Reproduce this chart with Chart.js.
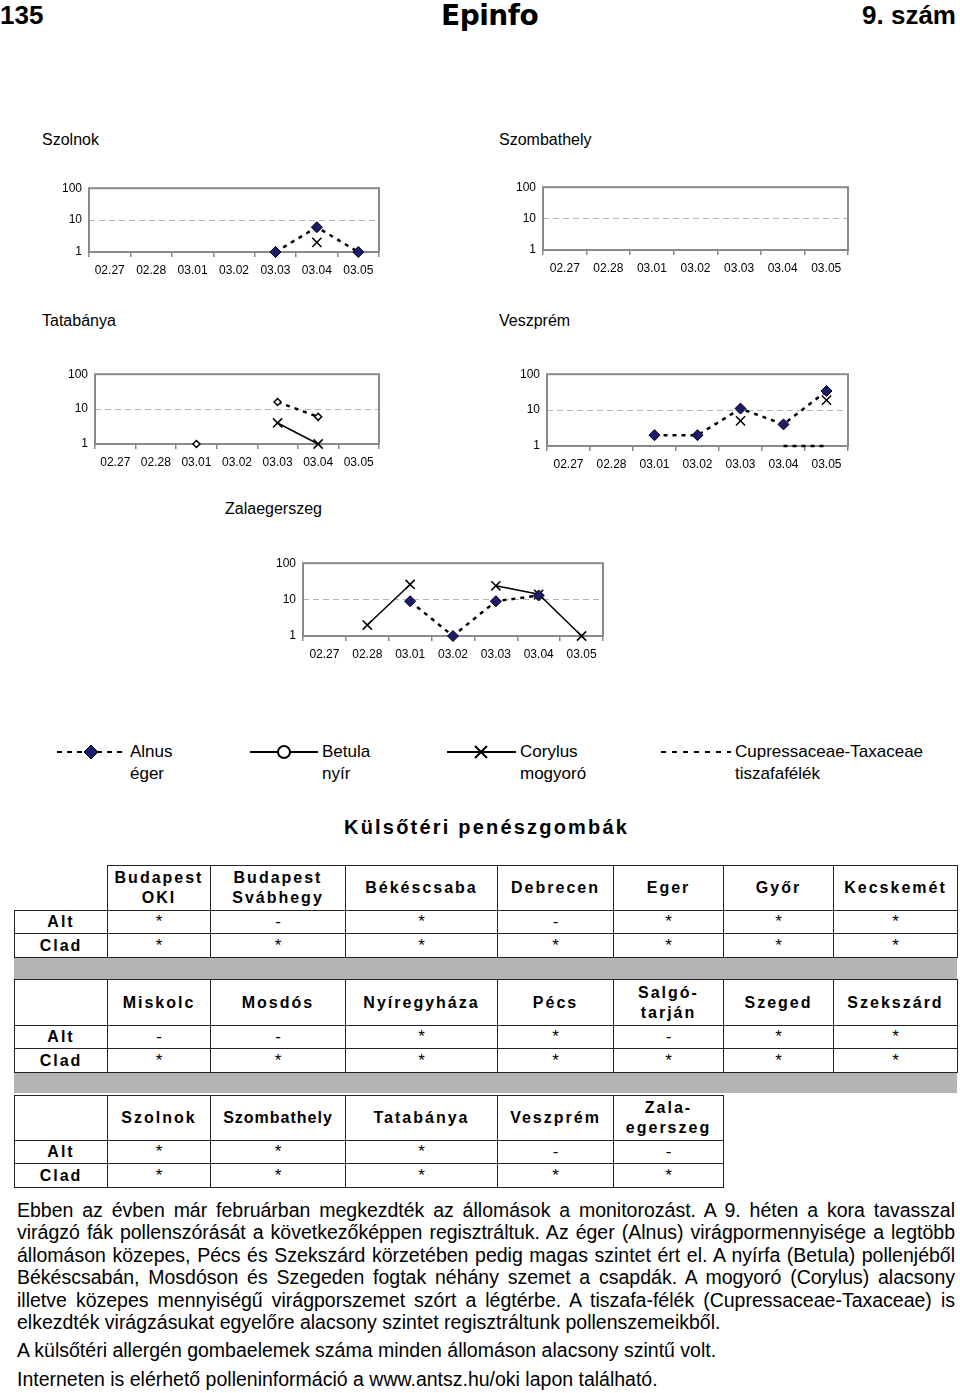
<!DOCTYPE html>
<html lang="hu">
<head>
<meta charset="utf-8">
<title>Epinfo 135</title>
<script src="https://cdn.jsdelivr.net/npm/chart.js@4.4.1/dist/chart.umd.min.js"></script>
<style>
  body { margin: 0; width: 960px; height: 1393px; position: relative; overflow: hidden;
         background: #fff; color: #000; font-family: "Liberation Sans", Arial, sans-serif; }
  .abs { position: absolute; white-space: nowrap; }
  .head { font-family: "Liberation Sans Narrow", "Liberation Sans", sans-serif; font-weight: bold; font-size: 26px; line-height: normal; top: 0; }
  .logo { font-family: "DejaVu Sans", sans-serif; font-weight: bold; font-size: 28px; line-height: 32px; top: 0; left: 441px; letter-spacing: -0.5px; }
  .title { font-size: 16px; }
  .chartbox { position: absolute; }
  .leg { font-size: 17px; line-height: 22px; }
  .sec { font-size: 20px; font-weight: bold; letter-spacing: 2.2px; top: 816px; left: 344px; }
  table.grid { position: absolute; left: 14px; border-collapse: collapse; table-layout: fixed; }
  table.grid td { border: 1px solid #222; text-align: center; padding: 0; font-size: 17px; vertical-align: middle; }
  table.grid tr.hd td { font-weight: bold; font-size: 16px; letter-spacing: 2px; line-height: 20px; }
  table.grid td.lab { font-weight: bold; font-size: 16px; letter-spacing: 2px; }
  table.grid td.blank { border-top: none; border-left: none; }
  .band { position: absolute; left: 14px; width: 943px; background: #b4b4b4; }
  .txt { position: absolute; left: 17px; width: 938px; font-size: 19.5px; line-height: 22.4px; }
  .j { text-align: justify; text-align-last: justify; white-space: nowrap; word-spacing: -2px; }
</style>
</head>
<body>

<div class="abs head" style="left:0">135</div>
<div class="abs logo">Epinfo</div>
<div class="abs head" style="right:4px">9. szám</div>

<div class="abs title" style="left:42px; top:131px">Szolnok</div>
<div class="abs title" style="left:499px; top:131px">Szombathely</div>
<div class="abs title" style="left:42px; top:312px">Tatabánya</div>
<div class="abs title" style="left:499px; top:312px">Veszprém</div>
<div class="abs title" style="left:225px; top:500px">Zalaegerszeg</div>

<div class="chartbox" style="left:39px; top:174px"><canvas id="szolnok" width="350" height="108"></canvas></div>
<div class="chartbox" style="left:493px; top:173px"><canvas id="szombathely" width="365" height="107"></canvas></div>
<div class="chartbox" style="left:45px; top:360px"><canvas id="tatabanya" width="344" height="114"></canvas></div>
<div class="chartbox" style="left:497px; top:360px"><canvas id="veszprem" width="361" height="116"></canvas></div>
<div class="chartbox" style="left:253px; top:549px"><canvas id="zalaegerszeg" width="360" height="117"></canvas></div>

<!-- legend shared by the five charts -->
<svg class="abs" style="left:0; top:740px" width="960" height="26">
  <line x1="57" y1="12" x2="127" y2="12" stroke="#000" stroke-width="2" stroke-dasharray="5,5"/>
  <polygon points="91,5 98,12 91,19 84,12" fill="#1c1c6e" stroke="#000" stroke-width="1"/>
  <line x1="250" y1="12" x2="318" y2="12" stroke="#000" stroke-width="2"/>
  <circle cx="284" cy="12" r="6" fill="#fff" stroke="#000" stroke-width="2"/>
  <line x1="447" y1="12" x2="516" y2="12" stroke="#000" stroke-width="2"/>
  <path d="M475,6 L487,18 M487,6 L475,18" stroke="#000" stroke-width="2"/>
  <line x1="661" y1="12" x2="731" y2="12" stroke="#000" stroke-width="2" stroke-dasharray="5,6"/>
</svg>
<div class="abs leg" style="left:130px; top:741px">Alnus<br>éger</div>
<div class="abs leg" style="left:322px; top:741px">Betula<br>nyír</div>
<div class="abs leg" style="left:520px; top:741px">Corylus<br>mogyoró</div>
<div class="abs leg" style="left:735px; top:741px">Cupressaceae-Taxaceae<br>tiszafafélék</div>

<div class="abs sec">Külsőtéri penészgombák</div>

<table class="grid" style="top:865px">
  <colgroup><col style="width:93px"><col style="width:103px"><col style="width:135px"><col style="width:152px"><col style="width:116px"><col style="width:110px"><col style="width:110px"><col style="width:124px"></colgroup>
  <tr class="hd" style="height:45px"><td class="blank"></td><td>Budapest<br>OKI</td><td>Budapest<br>Svábhegy</td><td>Békéscsaba</td><td>Debrecen</td><td>Eger</td><td>Győr</td><td>Kecskemét</td></tr>
  <tr style="height:23px"><td class="lab">Alt</td><td>*</td><td>-</td><td>*</td><td>-</td><td>*</td><td>*</td><td>*</td></tr>
  <tr style="height:24px"><td class="lab">Clad</td><td>*</td><td>*</td><td>*</td><td>*</td><td>*</td><td>*</td><td>*</td></tr>
</table>
<div class="band" style="top:958px; height:21px"></div>

<table class="grid" style="top:979px">
  <colgroup><col style="width:93px"><col style="width:103px"><col style="width:135px"><col style="width:152px"><col style="width:116px"><col style="width:110px"><col style="width:110px"><col style="width:124px"></colgroup>
  <tr class="hd" style="height:46px"><td></td><td>Miskolc</td><td>Mosdós</td><td>Nyíregyháza</td><td>Pécs</td><td>Salgó-<br>tarján</td><td>Szeged</td><td>Szekszárd</td></tr>
  <tr style="height:23px"><td class="lab">Alt</td><td>-</td><td>-</td><td>*</td><td>*</td><td>-</td><td>*</td><td>*</td></tr>
  <tr style="height:24px"><td class="lab">Clad</td><td>*</td><td>*</td><td>*</td><td>*</td><td>*</td><td>*</td><td>*</td></tr>
</table>
<div class="band" style="top:1073px; height:20px"></div>

<table class="grid" style="top:1095px">
  <colgroup><col style="width:93px"><col style="width:103px"><col style="width:135px"><col style="width:152px"><col style="width:116px"><col style="width:110px"></colgroup>
  <tr class="hd" style="height:45px"><td></td><td>Szolnok</td><td style="letter-spacing:1px">Szombathely</td><td>Tatabánya</td><td>Veszprém</td><td>Zala-<br>egerszeg</td></tr>
  <tr style="height:23px"><td class="lab">Alt</td><td>*</td><td>*</td><td>*</td><td>-</td><td>-</td></tr>
  <tr style="height:24px"><td class="lab">Clad</td><td>*</td><td>*</td><td>*</td><td>*</td><td>*</td></tr>
</table>

<div class="txt" style="top:1199px">
  <div class="j">Ebben az évben már februárban megkezdték az állomások a monitorozást. A 9. héten a kora tavasszal</div>
  <div class="j">virágzó fák pollenszórását a következőképpen regisztráltuk. Az éger (Alnus) virágpormennyisége a legtöbb</div>
  <div class="j">állomáson közepes, Pécs és Szekszárd körzetében pedig magas szintet ért el. A nyírfa (Betula) pollenjéből</div>
  <div class="j">Békéscsabán, Mosdóson és Szegeden fogtak néhány szemet a csapdák. A mogyoró (Corylus) alacsony</div>
  <div class="j">illetve közepes mennyiségű virágporszemet szórt a légtérbe. A tiszafa-félék (Cupressaceae-Taxaceae) is</div>
  <div>elkezdték virágzásukat egyelőre alacsony szintet regisztráltunk pollenszemeikből.</div>
  <div style="margin-top:6px">A külsőtéri allergén gombaelemek száma minden állomáson alacsony szintű volt.</div>
  <div style="margin-top:6px">Interneten is elérhető polleninformáció a www.antsz.hu/oki lapon található.</div>
</div>

<script>
// categories and y ticks shared by every chart (log scale, pollen / m3)
const dates = ["02.27", "02.28", "03.01", "03.02", "03.03", "03.04", "03.05"];
const yTicks = [1, 10, 100];

// no values for the series
const noData = [null, null, null, null, null, null, null];

// Szolnok
const szolnokAlnus = [null, null, null, null, 1, 6, 1];
const szolnokCorylus = [null, null, null, null, null, 2, null];

// Szombathely - nothing counted yet

// Tatabánya
const tatabanyaAlnus = [null, null, 1, null, 16, 6, null];
const tatabanyaCorylus = [null, null, null, null, 4, 1, null];

// Veszprém
const veszpremAlnus = [null, null, 2, 2, 11, 4, 34];
const veszpremCorylus = [null, null, null, null, 5, null, 19];
const veszpremCupressaceae = [null, null, null, null, null, 1, 1];

// Zalaegerszeg
const zalaAlnus = [null, null, 9, 1, 9, 13, null];
const zalaCorylus = [null, 2, 26, null, 24, 14, 1];

// grey frame round the plot area, like the Excel original
const plotFrame = {
  id: "plotFrame",
  beforeDatasetsDraw(chart) {
    const { ctx, chartArea: a } = chart;
    ctx.save();
    ctx.strokeStyle = "#8a8a8a";
    ctx.lineWidth = 2;
    ctx.strokeRect(a.left, a.top, a.right - a.left, a.bottom - a.top);
    ctx.restore();
  },
};

// Function to build one small station chart
function createChart(id, alnus, betula, corylus, cupressaceae, openAlnus) {
  const ctx = document.getElementById(id).getContext("2d");

  return new Chart(ctx, {
    type: "line",
    data: {
      labels: dates,
      datasets: [
        {
          label: "Alnus",
          data: alnus,
          borderColor: "#000",
          borderWidth: 2.5,
          borderDash: [4, 5],
          pointStyle: "rectRot",
          pointRadius: openAlnus ? 3.5 : 5.5,
          pointBackgroundColor: openAlnus ? "#fff" : "#1c1c6e",
          pointBorderColor: "#000",
          pointBorderWidth: openAlnus ? 1.5 : 1,
        },
        {
          label: "Betula",
          data: betula,
          borderColor: "#000",
          borderWidth: 1.5,
          pointStyle: "circle",
          pointRadius: 5,
          pointBackgroundColor: "#fff",
          pointBorderColor: "#000",
        },
        {
          label: "Corylus",
          data: corylus,
          borderColor: "#000",
          borderWidth: 1.5,
          pointStyle: "crossRot",
          pointRadius: 6.5,
          pointBorderColor: "#000",
          pointBorderWidth: 1.5,
        },
        {
          label: "Cupressaceae-Taxaceae",
          data: cupressaceae,
          borderColor: "#000",
          borderWidth: 2.5,
          borderDash: [4, 5],
          pointRadius: 0,
        },
      ],
    },
    options: {
      responsive: false,
      animation: false,
      events: [],
      layout: { padding: { top: 10, right: 10, left: 0, bottom: 0 } },
      datasets: { line: { clip: false, tension: 0, fill: false } },
      scales: {
        x: {
          type: "category",
          offset: true,
          afterFit: (s) => { s.height = 30; },
          grid: { offset: true, drawOnChartArea: false, drawTicks: true, tickLength: 5, color: "#8a8a8a", lineWidth: 1.5 },
          border: { display: false },
          ticks: { color: "#000", font: { family: "Liberation Sans", size: 12 }, padding: 6, maxRotation: 0, autoSkip: false },
        },
        y: {
          type: "logarithmic",
          min: 1,
          max: 100,
          afterFit: (s) => { s.width = 50; },
          afterBuildTicks: (s) => { s.ticks = yTicks.map((v) => ({ value: v })); },
          grid: {
            drawTicks: false,
            color: (c) => (c.tick && c.tick.value === 10 ? "#b5b5b5" : "rgba(0,0,0,0)"),
            lineWidth: 1,
          },
          border: { display: false, dash: [6, 4] },
          ticks: { color: "#000", font: { family: "Liberation Sans", size: 12 }, padding: 7, callback: (v) => String(v) },
        },
      },
      plugins: {
        legend: { display: false },
        tooltip: { enabled: false },
      },
    },
    plugins: [plotFrame],
  });
}

createChart("szolnok", szolnokAlnus, noData, szolnokCorylus, noData, false);
createChart("szombathely", noData, noData, noData, noData, false);
createChart("tatabanya", tatabanyaAlnus, noData, tatabanyaCorylus, noData, true);
createChart("veszprem", veszpremAlnus, noData, veszpremCorylus, veszpremCupressaceae, false);
createChart("zalaegerszeg", zalaAlnus, noData, zalaCorylus, noData, false);
</script>
</body>
</html>
